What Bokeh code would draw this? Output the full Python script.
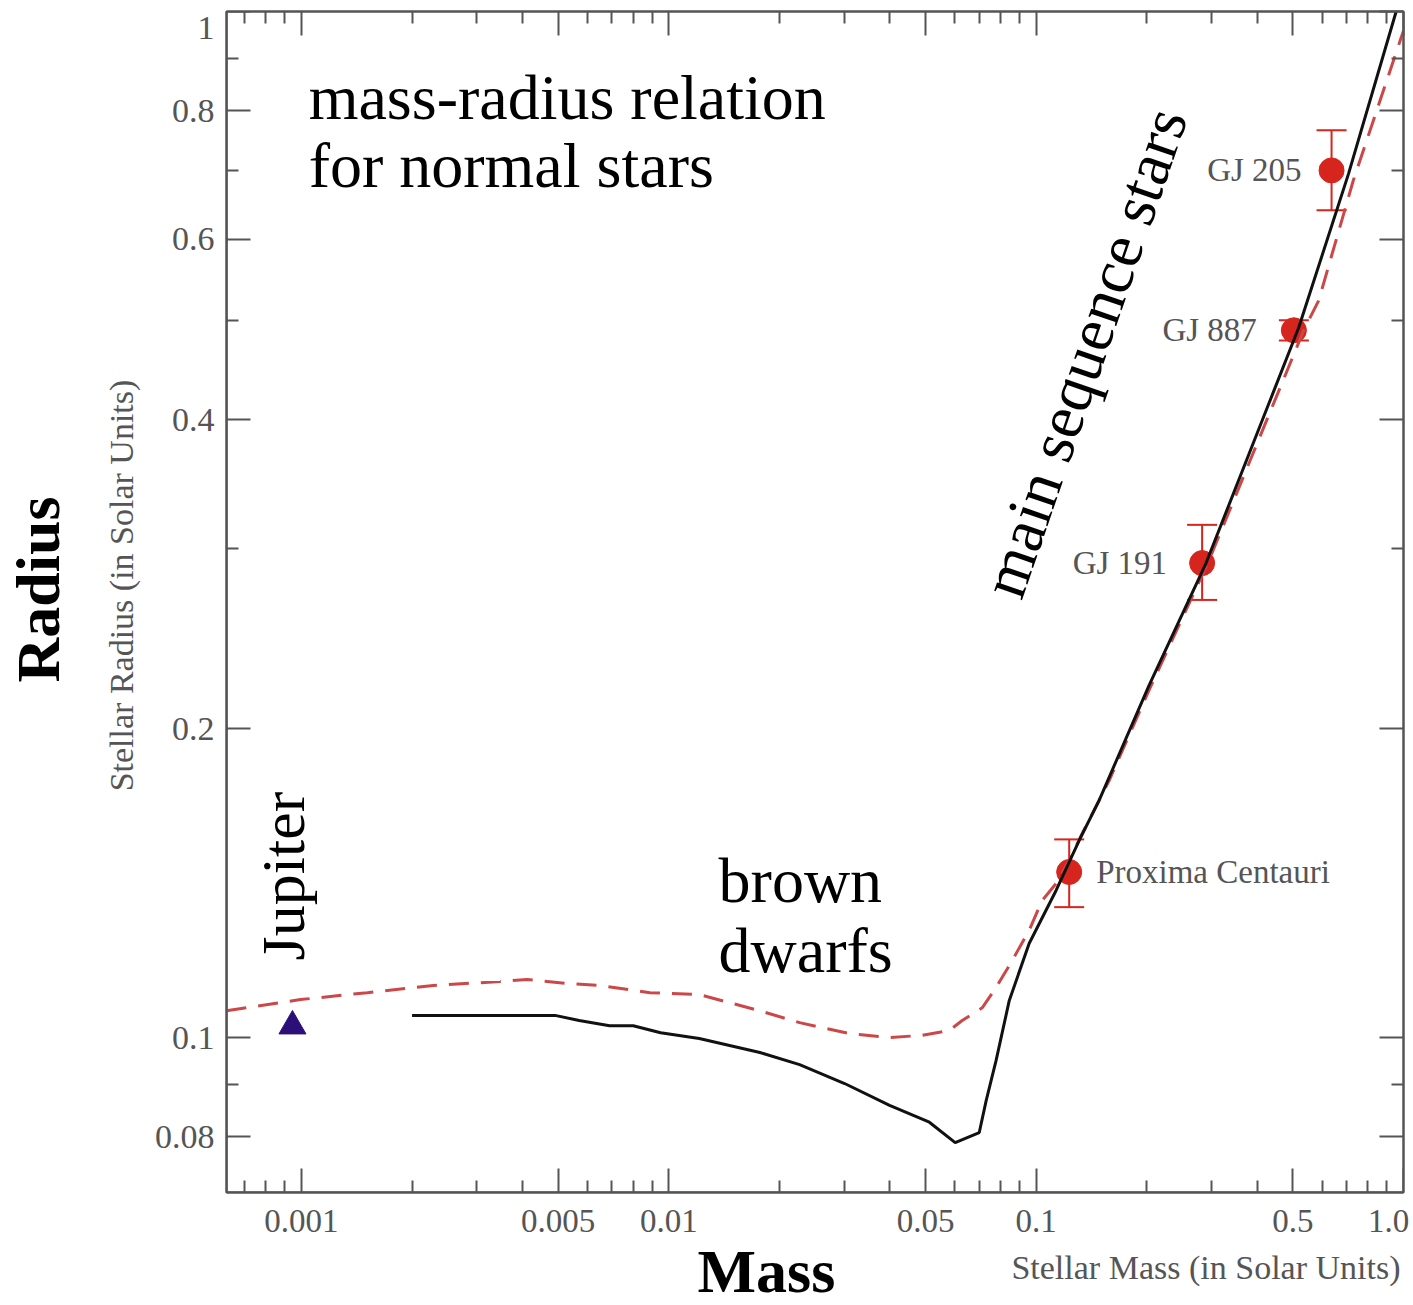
import math
from bokeh.plotting import figure
from bokeh.layouts import column, row
from bokeh.models import (FixedTicker, CustomJSTickFormatter, Label, Whisker,
                          TeeHead, ColumnDataSource, LogAxis, Range1d)
from bokeh.embed import file_html
from bokeh.resources import INLINE

# ---------------- data ----------------
# solid model curve (brown dwarfs + main sequence)
model_mass = [0.0020, 0.0049, 0.0057, 0.0069, 0.0080, 0.0095, 0.0121, 0.0177,
              0.0227, 0.0301, 0.0399, 0.0512, 0.0602, 0.0700, 0.0731, 0.0778,
              0.0845, 0.0957, 0.1133, 0.1309, 0.1483, 0.2028, 0.2897, 0.5186,
              0.7087, 0.955]
model_radius = [0.1051, 0.1051, 0.1039, 0.1027, 0.1027, 0.1011, 0.0998, 0.0967,
                0.0941, 0.0902, 0.0859, 0.0827, 0.0790, 0.0808, 0.0868, 0.0950,
                0.1087, 0.1235, 0.1391, 0.1556, 0.1702, 0.2203, 0.2897, 0.4920,
                0.6950, 1.000]

# dashed mass-radius relation
dash_mass = [0.000625, 0.000994, 0.001511, 0.002284, 0.003473, 0.004112, 0.005282,
             0.006495, 0.008881, 0.01214, 0.01768, 0.0227, 0.03103, 0.0399, 0.049,
             0.058, 0.0629, 0.0713, 0.0778, 0.0861, 0.0957, 0.1038, 0.1133, 0.1229,
             0.1334, 0.158, 0.2028, 0.2952, 0.5351, 0.5875, 0.7300, 1.0]
dash_radius = [0.1062, 0.1089, 0.1106, 0.1124, 0.1134, 0.1139, 0.1129,
               0.1124, 0.1106, 0.1101, 0.1062, 0.1034, 0.1009, 0.1000, 0.1005,
               0.1016, 0.1039, 0.1069, 0.1119, 0.1189, 0.1272, 0.1360, 0.1413, 0.1487,
               0.1580, 0.178, 0.218, 0.2916, 0.489, 0.5227, 0.6844, 0.958]

# measured stars
star_names = ["GJ 205", "GJ 887", "GJ 191", "Proxima Centauri"]
star_mass = [0.637, 0.503, 0.283, 0.123]
star_radius = [0.700, 0.489, 0.290, 0.145]
star_radius_lo = [0.640, 0.478, 0.267, 0.134]
star_radius_hi = [0.766, 0.500, 0.316, 0.156]

# Jupiter
jupiter_mass = [0.000945]
jupiter_radius = [0.1026]

# axes: tick marks
x_major = [0.001, 0.005, 0.01, 0.05, 0.1, 0.5, 1.0]
x_minor = [0.0007, 0.0008, 0.0009, 0.002, 0.003, 0.004, 0.006, 0.007, 0.008, 0.009,
           0.02, 0.03, 0.04, 0.06, 0.07, 0.08, 0.09, 0.2, 0.3, 0.4, 0.6, 0.7, 0.8, 0.9]
y_major = [0.08, 0.1, 0.2, 0.4, 0.6, 0.8, 1.0]
y_minor = [0.09, 0.3, 0.5, 0.7, 0.9]
# axes: tick labels (the end labels "1.0" and "1" sit inset from the corner)
x_label_at = [0.001, 0.005, 0.01, 0.05, 0.1, 0.5, 0.9103]
y_label_at = [0.08, 0.1, 0.2, 0.4, 0.6, 0.8, 0.9626]
X_RANGE = (0.000625, 1.0)
Y_RANGE = (0.07063, 1.0)

# ---------------- styling ----------------
AXIS = "#555555"
GRAY_TXT = "#555555"
SERIF = "Liberation Serif"
RED = "#d6251d"
DASH_RED = "#cc4848"

FRAME_W, FRAME_H = 1177, 1181
TOP, BOTTOM, LEFT, RIGHT = 11, 54, 80, 10
LEFT_W = 146
PAGE_H = 1305
OVERLAP = 16
MAIN_H = TOP + FRAME_H + BOTTOM
BOTTOM_H = PAGE_H - MAIN_H + OVERLAP
TOTAL_W = LEFT_W + LEFT + FRAME_W + RIGHT

p = figure(x_axis_type="log", y_axis_type="log", x_range=X_RANGE, y_range=Y_RANGE,
           frame_width=FRAME_W, frame_height=FRAME_H,
           min_border_left=LEFT, min_border_right=RIGHT, min_border_top=TOP,
           min_border_bottom=BOTTOM,
           output_backend="svg", toolbar_location=None,
           background_fill_color="white", border_fill_color="white")
p.grid.visible = False
p.outline_line_color = AXIS
p.outline_line_width = 2

X_FMT = "return tick > 0.9 ? '1.0' : String(tick);"
Y_FMT = "return tick > 0.9 ? '1' : String(tick);"


def tick_axis(ax, major, minor):
    """axis that only draws the rule and inward tick marks"""
    ax.ticker = FixedTicker(ticks=major, minor_ticks=minor)
    ax.axis_line_color = AXIS
    ax.axis_line_width = 2
    ax.major_tick_line_color = AXIS
    ax.major_tick_line_width = 2
    ax.minor_tick_line_color = AXIS
    ax.minor_tick_line_width = 2
    ax.major_tick_in = 24
    ax.major_tick_out = 0
    ax.minor_tick_in = 12
    ax.minor_tick_out = 0
    ax.formatter = CustomJSTickFormatter(code="return ''")
    ax.major_label_text_font_size = "0px"
    ax.major_label_standoff = 0


def label_axis(ax, label_at, fmt, size, standoff):
    """axis that only draws the tick labels"""
    ax.ticker = FixedTicker(ticks=label_at, minor_ticks=[])
    ax.axis_line_color = AXIS
    ax.axis_line_width = 2
    ax.major_tick_line_color = None
    ax.minor_tick_line_color = None
    ax.major_tick_in = 0
    ax.major_tick_out = 0
    ax.minor_tick_in = 0
    ax.minor_tick_out = 0
    ax.formatter = CustomJSTickFormatter(code=fmt)
    ax.major_label_text_font = SERIF
    ax.major_label_text_color = GRAY_TXT
    ax.major_label_text_font_size = size
    ax.major_label_standoff = standoff


label_axis(p.xaxis[0], x_label_at, X_FMT, "33px", 17)
label_axis(p.yaxis[0], y_label_at, Y_FMT, "34px", 12)

bottom_ticks = LogAxis(fixed_location=Y_RANGE[0])
left_ticks = LogAxis(fixed_location=X_RANGE[0])
top_ticks = LogAxis()
right_ticks = LogAxis()
tick_axis(bottom_ticks, x_major, x_minor)
tick_axis(top_ticks, x_major, x_minor)
tick_axis(left_ticks, y_major, y_minor)
tick_axis(right_ticks, y_major, y_minor)
p.add_layout(bottom_ticks, "below")
p.add_layout(left_ticks, "left")
p.add_layout(top_ticks, "above")
p.add_layout(right_ticks, "right")

# ---------------- marks ----------------
stars = ColumnDataSource(dict(m=star_mass, r=star_radius, lo=star_radius_lo,
                              hi=star_radius_hi, name=star_names))
p.add_layout(Whisker(source=stars, base="m", upper="hi", lower="lo", dimension="height",
                     line_color=RED, line_width=2,
                     upper_head=TeeHead(size=30, line_color=RED, line_width=2),
                     lower_head=TeeHead(size=30, line_color=RED, line_width=2)))
p.scatter("m", "r", source=stars, size=25, fill_color=RED, line_color=RED)

p.line(dash_mass, dash_radius, line_color=DASH_RED, line_width=3, line_dash="20 12")
p.line(model_mass, model_radius, line_color="#111111", line_width=3)

p.scatter(jupiter_mass, jupiter_radius, marker="triangle", size=27,
          fill_color="#2d0f78", line_color="#2d0f78")

# star labels
label_dx = [-30, -37, -35, 27]
for nm, m, r, dx in zip(star_names, star_mass, star_radius, label_dx):
    p.add_layout(Label(x=m, y=r, x_offset=dx, text=nm, text_font=SERIF,
                       text_font_size="33px", text_color=GRAY_TXT,
                       text_align="right" if dx < 0 else "left", text_baseline="middle"))


def txt(fig, x, y, s, size="64px", angle=0.0, align="left", color="black",
        style="normal"):
    fig.add_layout(Label(x=x, y=y, text=s, text_font=SERIF, text_font_size=size,
                         text_color=color, angle=math.radians(angle), text_align=align,
                         text_baseline="middle", text_font_style=style))


# annotations inside the chart
txt(p, 0.001046, 0.8250, "mass-radius relation")
txt(p, 0.001046, 0.7081, "for normal stars")
txt(p, 0.01366, 0.1423, "brown")
txt(p, 0.01366, 0.1216, "dwarfs")
txt(p, 0.000889, 0.1189, "Jupiter", size="62px", angle=90)
txt(p, 0.1354, 0.4652, "main sequence stars", angle=71, align="center")


def blank(w, h, xr, yr, fill="white"):
    f = figure(width=w, height=h, x_range=Range1d(*xr), y_range=Range1d(*yr),
               x_axis_location=None, y_axis_location=None,
               min_border_left=0, min_border_right=0, min_border_top=0,
               min_border_bottom=0, output_backend="svg", toolbar_location=None,
               background_fill_color=fill, border_fill_color=fill,
               outline_line_color=None)
    f.grid.visible = False
    return f


# left strip: axis titles for radius (pixel coordinates)
left = blank(LEFT_W, MAIN_H, (0, LEFT_W), (TOP + FRAME_H, TOP))
left.min_border_top = TOP
left.min_border_bottom = BOTTOM
txt(left, 37, 589, "Radius", size="62px", angle=90, align="center", style="bold")
txt(left, 121, 585, "Stellar Radius (in Solar Units)", size="34px", angle=90,
    align="center", color=GRAY_TXT)

# bottom strip: axis titles for mass (pixel coordinates), transparent, slightly
# overlapping the main figure's lower border
y0 = MAIN_H - OVERLAP
bottom = blank(TOTAL_W, BOTTOM_H, (0, TOTAL_W), (y0 + BOTTOM_H, y0), fill=None)
bottom.margin = (-OVERLAP, 0, 0, 0)
txt(bottom, 697, 1270, "Mass", size="62px", style="bold")
txt(bottom, 1400, 1267, "Stellar Mass (in Solar Units)", size="34px", align="right",
    color=GRAY_TXT)

layout = column(row(left, p), bottom)
open("out.html", "w").write(file_html(layout, INLINE))
